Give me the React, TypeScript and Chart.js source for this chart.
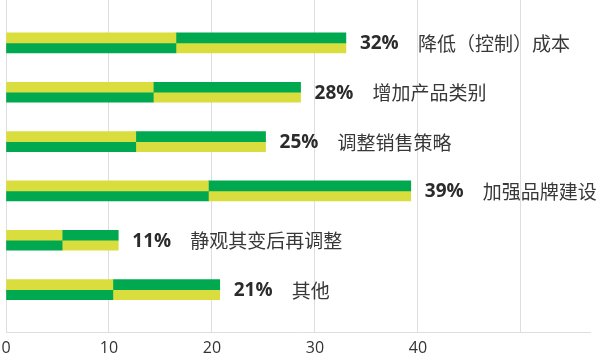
import React, { useEffect, useRef } from "react";
import { Chart, registerables } from "chart.js";

Chart.register(...registerables);

const categories = ["降低（控制）成本", "增加产品类别", "调整销售策略", "加强品牌建设", "静观其变后再调整", "其他"];
const percentLabels = ["32%", "28%", "25%", "39%", "11%", "21%"];
const barValues = [33.0, 28.6, 25.2, 39.3, 10.9, 20.75];
const xTicks = [0, 10, 20, 30, 40, 50];
const rowIndex = [0, 1, 2, 3, 4, 5];

const YELLOW = "#d9de3e";
const GREEN = "#00a94f";

export default function App() {
  const ref = useRef<HTMLCanvasElement | null>(null);

  useEffect(() => {
    document.body.style.margin = "0";
    const canvas = ref.current;
    if (!canvas) return;
    const half = barValues.map((v, i) => ({ x: v / 2, y: rowIndex[i] }));

    const labelPlugin = {
      id: "rowLabels",
      afterDatasetsDraw(chart: any) {
        const ctx = chart.ctx;
        const xs = chart.scales.x;
        const ys = chart.scales.y;
        ctx.save();
        ctx.textBaseline = "middle";
        ctx.textAlign = "left";
        barValues.forEach((v, i) => {
          const end = xs.getPixelForValue(v);
          const y = ys.getPixelForValue(rowIndex[i]) + 1;
          ctx.fillStyle = "#2b2b2b";
          ctx.font = "bold 19px 'Open Sans', sans-serif";
          ctx.fillText(percentLabels[i], end + 14, y);
          ctx.fillStyle = "#383838";
          ctx.font = "19px 'Noto Sans CJK SC', sans-serif";
          ctx.fillText(categories[i], end + 72, y);
        });
        ctx.restore();
      },
    };

    const chart = new Chart(canvas, {
      type: "bar",
      data: {
        datasets: [
          { data: half, backgroundColor: YELLOW, stack: "top" },
          { data: half, backgroundColor: GREEN, stack: "top" },
          { data: half, backgroundColor: GREEN, stack: "bottom" },
          { data: half, backgroundColor: YELLOW, stack: "bottom" },
        ] as any,
      },
      options: {
        indexAxis: "y",
        animation: false,
        responsive: false,
        maintainAspectRatio: false,
        layout: { padding: { left: 0, right: 10, top: 0, bottom: 0 } },
        datasets: {
          bar: { barThickness: 10, borderWidth: 0 },
        } as any,
        plugins: { legend: { display: false }, tooltip: { enabled: false } },
        scales: {
          x: {
            type: "linear",
            stacked: true,
            min: 0,
            max: 56.7,
            afterBuildTicks: (scale: any) => {
              scale.ticks = xTicks.map((v) => ({ value: v }));
            },
            afterFit: (scale: any) => {
              scale.height = 26;
              scale.paddingLeft = 6;
            },
            grid: { color: "#dedede", drawTicks: false, lineWidth: 1 },
            border: { color: "#dedede" },
            ticks: {
              padding: 7,
              color: "#333",
              font: { family: "'Open Sans', sans-serif", size: 16 },
              callback: (v: any) => (Number(v) >= 50 ? "" : String(v)),
            },
          },
          y: {
            type: "linear",
            offset: false,
            min: -0.87,
            max: 5.86,
            reverse: true,
            display: false,
            afterBuildTicks: (scale: any) => {
              scale.ticks = rowIndex.map((v) => ({ value: v }));
            },
          },
        },
      },
      plugins: [labelPlugin],
    } as any);

    return () => chart.destroy();
  }, []);

  return (
    <div style={{ width: 600, height: 358, background: "#fff" }}>
      <canvas ref={ref} width={600} height={358} style={{ display: "block" }} />
    </div>
  );
}
